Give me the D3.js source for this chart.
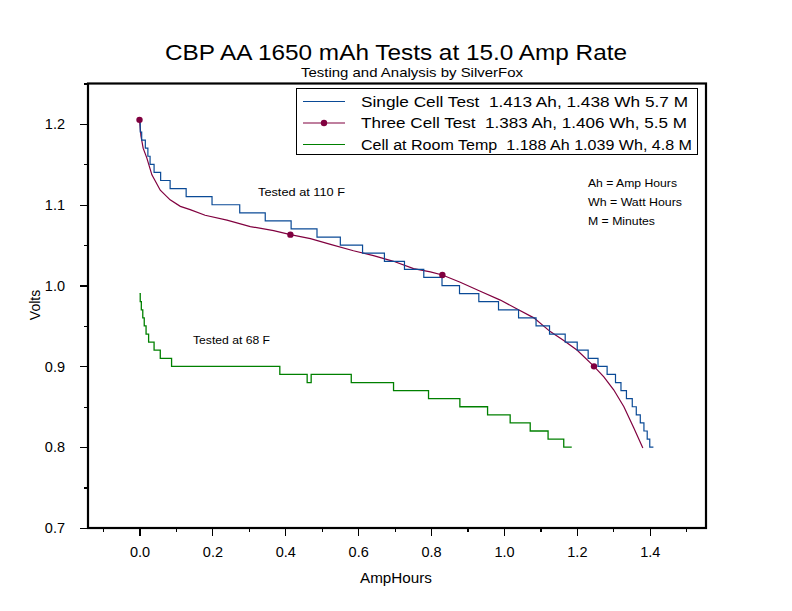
<!DOCTYPE html>
<html>
<head>
<meta charset="utf-8">
<script src="https://cdn.jsdelivr.net/npm/d3@7"></script>
<style>
  body { margin: 0; background: #fff; }
  svg { display: block; font-family: "Liberation Sans", Arial, sans-serif; }
  text { white-space: pre; }
</style>
</head>
<body>
<svg id="chart" width="792" height="611"></svg>
<script>
// ---- Data ----
// Each point: [AmpHours, Volts]; step series hold V from that Ah onwards.
const singleCell = [
  [0.000,1.205],[0.002,1.19],[0.006,1.18],[0.016,1.17],[0.023,1.16],[0.029,1.15],
  [0.040,1.14],[0.058,1.13],[0.084,1.12],[0.128,1.11],[0.199,1.10],[0.275,1.09],
  [0.345,1.08],[0.416,1.07],[0.487,1.06],[0.551,1.05],[0.612,1.04],[0.672,1.03],
  [0.727,1.02],[0.780,1.01],[0.830,1.00],[0.878,0.99],[0.931,0.98],[0.985,0.97],
  [1.040,0.96],[1.088,0.95],[1.125,0.94],[1.168,0.93],[1.201,0.92],[1.231,0.91],
  [1.258,0.90],[1.283,0.89],[1.306,0.88],[1.321,0.87],[1.336,0.86],[1.352,0.85],
  [1.363,0.84],[1.374,0.83],[1.384,0.82],[1.393,0.81],[1.400,0.80],[1.410,0.80]
];
const threeCell = [
  [0.000,1.205],[0.004,1.185],[0.010,1.170],[0.020,1.158],[0.034,1.137],[0.057,1.118],
  [0.084,1.106],[0.112,1.098],[0.139,1.094],[0.180,1.087],[0.240,1.081],[0.304,1.073],
  [0.368,1.068],[0.414,1.063],[0.469,1.058],[0.524,1.051],[0.587,1.043],[0.642,1.037],
  [0.697,1.030],[0.752,1.021],[0.798,1.017],[0.831,1.013],[0.880,1.004],[0.935,0.993],
  [0.990,0.982],[1.036,0.971],[1.082,0.960],[1.127,0.943],[1.164,0.932],[1.201,0.920],
  [1.247,0.900],[1.274,0.887],[1.301,0.871],[1.329,0.850],[1.356,0.824],[1.381,0.799]
];
const threeCellMarkers = [[0.000,1.205],[0.414,1.063],[0.831,1.013],[1.247,0.900]];
const roomTemp = [
  [0.000,0.99],[0.002,0.98],[0.005,0.97],[0.009,0.96],[0.013,0.95],[0.018,0.94],
  [0.025,0.93],[0.040,0.92],[0.057,0.91],[0.088,0.90],[0.385,0.89],[0.460,0.88],
  [0.471,0.89],[0.581,0.88],[0.697,0.87],[0.793,0.86],[0.879,0.85],[0.955,0.84],
  [1.017,0.83],[1.072,0.82],[1.121,0.81],[1.164,0.80],[1.186,0.80]
];
const legendLabels = [
  "Single Cell Test  1.413 Ah, 1.438 Wh 5.7 M",
  "Three Cell Test  1.383 Ah, 1.406 Wh, 5.5 M",
  "Cell at Room Temp  1.188 Ah 1.039 Wh, 4.8 M"
];
const seriesColors = ["#0a4a96", "#80003f", "#008000"];
const xMajorTicks = [0.0,0.2,0.4,0.6,0.8,1.0,1.2,1.4];
const xMinorTicks = [-0.1,0.1,0.3,0.5,0.7,0.9,1.1,1.3,1.5];
const yMajorTicks = [0.7,0.8,0.9,1.0,1.1,1.2];
const yMinorTicks = [0.75,0.85,0.95,1.05,1.15,1.25];
const notes = ["Ah = Amp Hours","Wh = Watt Hours","M = Minutes"];

// ---- Layout ----
const svg = d3.select("#chart");
const L = 88, R = 706, T = 83.5, B = 528;
const x = d3.scaleLinear().domain([-0.1413, 1.5543]).range([L, R]);
const y = d3.scaleLinear().domain([0.7, 1.25]).range([B, T]);

svg.append("rect").attr("width",792).attr("height",611).attr("fill","#fff");

// helper: text fitted to the width seen in the reference
function fitText(g, str, xx, yy, size, width, anchor) {
  const t = g.append("text").attr("x",xx).attr("y",yy).attr("font-size",size)
    .attr("text-anchor",anchor || "start").text(str);
  if (width) t.attr("textLength",width).attr("lengthAdjust","spacingAndGlyphs");
  return t;
}

// Title
fitText(svg,"CBP AA 1650 mAh Tests at 15.0 Amp Rate",396,60,22,462,"middle");
fitText(svg,"Testing and Analysis by SilverFox",412,77,13.5,222,"middle");

// Axes
const fmt = d3.format(".1f");
const gx = svg.append("g").attr("transform",`translate(0,${B})`)
  .call(d3.axisBottom(x).tickValues(xMajorTicks).tickSize(8).tickPadding(6).tickFormat(fmt));
const gxm = svg.append("g").attr("transform",`translate(0,${B})`)
  .call(d3.axisBottom(x).tickValues(xMinorTicks).tickSize(4).tickFormat(""));
const gy = svg.append("g").attr("transform",`translate(${L},0)`)
  .call(d3.axisLeft(y).tickValues(yMajorTicks).tickSize(8).tickPadding(15).tickFormat(fmt));
const gym = svg.append("g").attr("transform",`translate(${L},0)`)
  .call(d3.axisLeft(y).tickValues(yMinorTicks).tickSize(4).tickFormat(""));
[gx,gxm,gy,gym].forEach(g => {
  g.select(".domain").remove();
  g.selectAll("line").attr("stroke","#000").attr("stroke-width",1.2).attr("shape-rendering","crispEdges");
  g.selectAll("text").attr("font-size",14.5).attr("fill","#000")
    .attr("font-family","'Liberation Sans', Arial, sans-serif");
});
gx.selectAll("text").attr("dy","1.05em");

// Frame
svg.append("rect").attr("x",L).attr("y",T).attr("width",R-L).attr("height",B-T)
  .attr("fill","none").attr("stroke","#000").attr("stroke-width",2.2);

// Axis titles
fitText(svg,"AmpHours",396,583,14,72,"middle");
svg.append("text").attr("transform","translate(40,305) rotate(-90)").attr("text-anchor","middle")
  .attr("font-size",14).text("Volts");

// Series
const stepLine = d3.line().x(d => x(d[0])).y(d => y(d[1])).curve(d3.curveStepAfter);
const smoothLine = d3.line().x(d => x(d[0])).y(d => y(d[1])).curve(d3.curveLinear);
svg.append("path").datum(roomTemp).attr("d",stepLine).attr("fill","none")
  .attr("stroke",seriesColors[2]).attr("stroke-width",1.3);
svg.append("path").datum(threeCell).attr("d",smoothLine).attr("fill","none")
  .attr("stroke",seriesColors[1]).attr("stroke-width",1.2);
svg.append("path").datum(singleCell).attr("d",stepLine).attr("fill","none")
  .attr("stroke",seriesColors[0]).attr("stroke-width",1.2);
svg.selectAll("circle.mk").data(threeCellMarkers).enter().append("circle")
  .attr("class","mk").attr("cx",d => x(d[0])).attr("cy",d => y(d[1])).attr("r",3.2)
  .attr("fill",seriesColors[1]);

// Annotations
fitText(svg,"Tested at 110 F",258,196,11,87);
fitText(svg,"Tested at 68 F",193,344,11,77);
const noteW = [89,94,67];
notes.forEach((n,i) => fitText(svg,n,588,187 + i*19,10.5,noteW[i]));

// Legend
const lg = svg.append("g");
lg.append("rect").attr("x",296.5).attr("y",88.5).attr("width",401).attr("height",66)
  .attr("fill","#fff").attr("stroke","#000").attr("stroke-width",1);
const legW = [327,326,331];
legendLabels.forEach((lab,i) => {
  const yy = 101.5 + i*21.5;
  lg.append("line").attr("x1",303).attr("x2",345).attr("y1",yy).attr("y2",yy)
    .attr("stroke",seriesColors[i]).attr("stroke-width",1.2);
  if (i === 1) lg.append("circle").attr("cx",324).attr("cy",yy).attr("r",3.2).attr("fill",seriesColors[i]);
  fitText(lg,lab,361,yy+5,14,legW[i]);
});
</script>
</body>
</html>
